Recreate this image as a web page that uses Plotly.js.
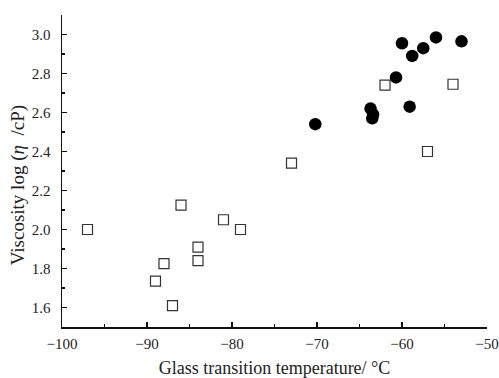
<!DOCTYPE html>
<html>
<head>
<meta charset="utf-8">
<script src="https://cdn.plot.ly/plotly-3.0.1.min.js"></script>
<style>html,body{margin:0;padding:0;background:#fff;}#chart{width:499px;height:378px;}</style>
</head>
<body>
<div id="chart"></div>
<script>
const circleTg = [-60.0, -56.0, -53.0, -57.5, -58.8, -60.7, -63.7, -63.4, -63.5, -59.1, -70.2];
const circleVisc = [2.955, 2.985, 2.965, 2.93, 2.89, 2.78, 2.62, 2.59, 2.57, 2.63, 2.54];
const squareTg = [-62.0, -54.0, -57.0, -73.0, -97.0, -86.0, -88.0, -89.0, -87.0, -84.0, -84.0, -81.0, -79.0];
const squareVisc = [2.74, 2.745, 2.40, 2.34, 2.00, 2.125, 1.825, 1.735, 1.61, 1.91, 1.84, 2.05, 2.00];
const xTickVals = [-100, -90, -80, -70, -60, -50];
const yTickVals = [1.6, 1.8, 2.0, 2.2, 2.4, 2.6, 2.8, 3.0];

const font = {family: '"Liberation Serif", "DejaVu Serif", serif', color: '#222'};

const traces = [
  {x: squareTg, y: squareVisc, mode: 'markers', type: 'scatter',
   marker: {symbol: 'square-open', size: 10, color: '#333', line: {width: 1.2, color: '#333'}}},
  {x: circleTg, y: circleVisc, mode: 'markers', type: 'scatter',
   marker: {symbol: 'circle', size: 12.5, color: '#000'}}
];

const layout = {
  width: 499, height: 378,
  margin: {l: 62, r: 12, t: 15, b: 51},
  paper_bgcolor: '#fff', plot_bgcolor: '#fff',
  showlegend: false,
  font: Object.assign({size: 15}, font),
  xaxis: {
    range: [-100, -50], tickvals: xTickVals, ticks: 'inside', ticklen: 5, tickwidth: 1.2,
    tickcolor: '#111', showline: true, linecolor: '#111', linewidth: 1.5,
    showgrid: false, zeroline: false,
    minor: {dtick: 5, ticks: 'inside', ticklen: 3, tickcolor: '#111', tickwidth: 1.2, showgrid: false},
    tickfont: Object.assign({size: 15}, font),
    ticklabelstandoff: 2,
    title: {text: 'Glass transition temperature/ °C', font: Object.assign({size: 18}, font), standoff: 11}
  },
  yaxis: {
    range: [1.5, 3.1], tickvals: yTickVals, tickformat: '.1f', ticks: 'inside', ticklen: 5, tickwidth: 1.2,
    tickcolor: '#111', showline: true, linecolor: '#111', linewidth: 1.5,
    showgrid: false, zeroline: false,
    minor: {dtick: 0.1, tick0: 1.5, ticks: 'inside', ticklen: 3, tickcolor: '#111', tickwidth: 1.2, showgrid: false},
    tickfont: Object.assign({size: 15}, font),
    ticklabelstandoff: 7
  },
  annotations: [{
    text: 'Viscosity log\u00a0(<i>η</i>\u00a0\u00a0/cP)', textangle: -90,
    xref: 'paper', yref: 'paper', x: -0.103, y: 0.455, xanchor: 'center', yanchor: 'middle',
    showarrow: false, font: Object.assign({size: 19}, font)
  }]
};

Plotly.newPlot('chart', traces, layout, {displayModeBar: false, staticPlot: true});
</script>
</body>
</html>
